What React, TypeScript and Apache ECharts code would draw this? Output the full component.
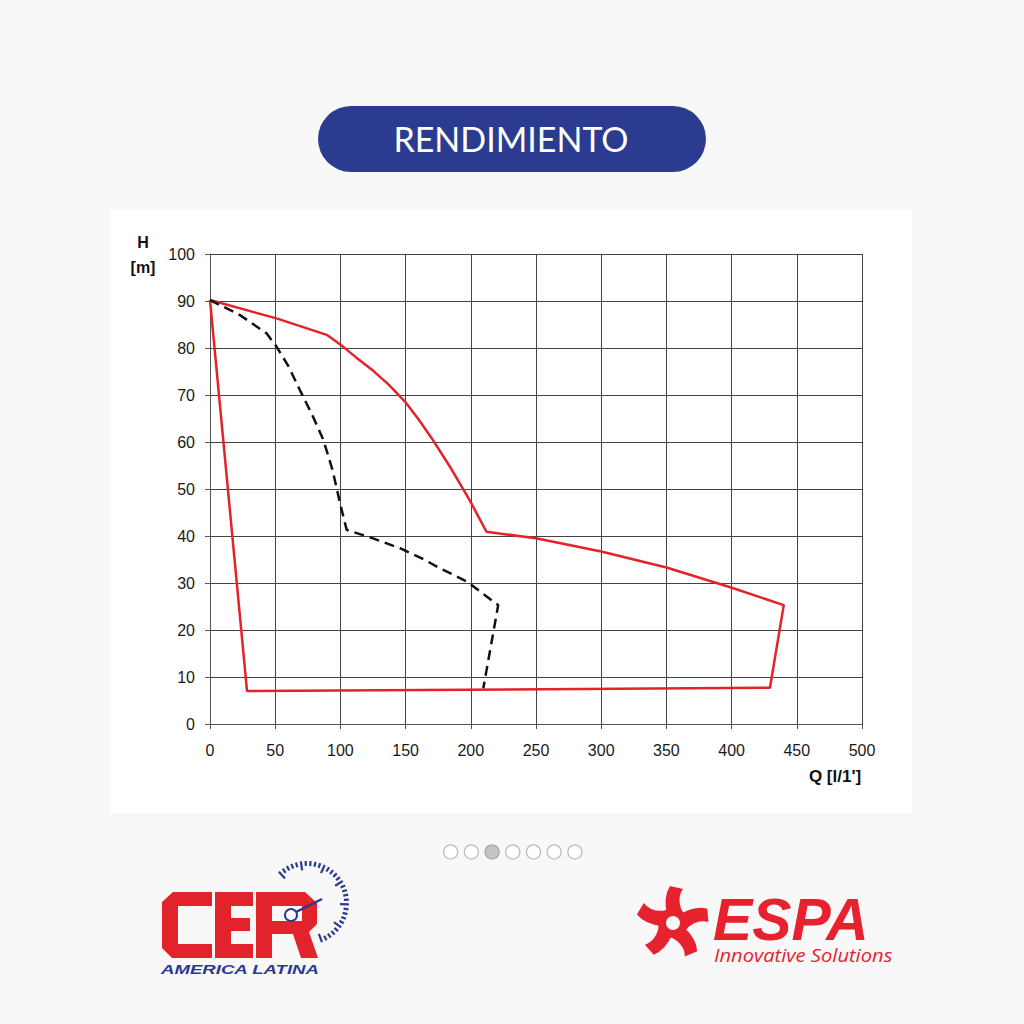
import React, { useEffect, useRef } from "react";
import * as echarts from "echarts";

// Data
const redQ = [0, 51, 89.5, 102, 112, 125, 137, 149.5, 160, 171, 185, 199, 212, 250, 300, 350, 399, 440, 429.4, 28.4, 0];
const redH = [90.2, 86.3, 82.8, 80.3, 78.0, 75.2, 72.2, 68.6, 64.8, 60.4, 54.3, 47.7, 40.9, 39.5, 36.7, 33.3, 29.1, 25.3, 7.7, 7.0, 90.2];
const blackQ = [0, 23, 43.5, 51, 60, 69, 78, 87, 94, 99.7, 104.8, 125, 145.7, 162, 176, 197, 221, 209.6];
const blackH = [90.2, 87, 83.1, 80.3, 76.2, 71, 66, 60.4, 54, 47, 41.3, 39.5, 37.4, 35.3, 33.2, 30.3, 25.3, 7.6];
const xTicks = [0, 50, 100, 150, 200, 250, 300, 350, 400, 450, 500];
const yTicks = [0, 10, 20, 30, 40, 50, 60, 70, 80, 90, 100];
const titleText = "RENDIMIENTO";
const yAxisName = ["H", "[m]"];
const xAxisName = "Q [l/1']";
const pagerDots = [0, 1, 2, 3, 4, 5, 6];
const activeDot = 2;

const BLADE = "M -6 -9 Q -10 -26 -3 -37 L 10 -34 Q 3 -24 10 -10 Z";

export default function App() {
  const ref = useRef<HTMLDivElement>(null);
  useEffect(() => {
    if (!ref.current) return;
    try {
      echarts.graphic.registerShape("espaBlade", echarts.graphic.extendPath(BLADE, {}));
    } catch (e) {}
    const chart = echarts.init(ref.current, null, { renderer: "svg", width: 1024, height: 1024 });

    const redData = redQ.map((q, i) => [q, redH[i]]);
    const blackData = blackQ.map((q, i) => [q, blackH[i]]);

    const blue = "#2b3a90";
    const red = "#e3232b";
    const bg = "#f8f8f8";

    // gauge ticks around the CER logo
    const gaugeTicks: any[] = [];
    const gcx = 307, gcy = 903, gr = 42;
    const n = 30;
    for (let i = 0; i <= n; i++) {
      const a = ((132 - (201 * i) / n) * Math.PI) / 180;
      const len = i % 5 === 0 ? 9 : 5;
      gaugeTicks.push({
        type: "line",
        shape: {
          x1: gcx + Math.cos(a) * gr,
          y1: gcy - Math.sin(a) * gr,
          x2: gcx + Math.cos(a) * (gr - len),
          y2: gcy - Math.sin(a) * (gr - len),
        },
        style: { stroke: blue, lineWidth: 2.2 },
      });
    }

    const cerLetters: any[] = [
      {
        type: "polygon",
        shape: {
          points: [[173, 892], [212, 892], [212, 906], [178, 906], [178, 944], [212, 944], [212, 958], [172, 958], [162, 948], [162, 902]],
        },
        style: { fill: red },
      },
      {
        type: "polygon",
        shape: {
          points: [[215, 892], [253, 892], [253, 906], [231, 906], [231, 918], [250, 918], [250, 931], [231, 931], [231, 944], [253, 944], [253, 958], [215, 958]],
        },
        style: { fill: red },
      },
      {
        type: "polygon",
        shape: {
          points: [[256, 892], [305, 892], [317, 903], [317, 924], [309, 932], [318, 958], [301, 958], [293, 934], [272, 934], [272, 958], [256, 958]],
        },
        style: { fill: red },
      },
      {
        type: "rect",
        shape: { x: 272, y: 906, width: 30, height: 15 },
        style: { fill: bg },
      },
    ];

    const blades: any[] = [0, 1, 2, 3, 4].map((k) => ({
      type: "espaBlade",
      x: 673,
      y: 923,
      rotation: (-k * 72 * Math.PI) / 180,
      style: { fill: "#e8212f" },
    }));

    const dots = pagerDots.map((d) => ({
      type: "circle",
      shape: { cx: 450.7 + d * 20.7, cy: 852, r: 7 },
      style: {
        fill: d === activeDot ? "#c4c4c4" : "#ffffff",
        stroke: d === activeDot ? "#a9a9a9" : "#bdbdbd",
        lineWidth: 1.3,
      },
    }));

    chart.setOption({
      animation: false,
      backgroundColor: bg,
      grid: { left: 210, top: 254, width: 652, height: 470, containLabel: false },
      xAxis: {
        type: "value",
        min: 0,
        max: 500,
        interval: 50,
        axisLine: { show: true, lineStyle: { color: "#555", width: 1 } },
        axisTick: { show: true, length: 5, lineStyle: { color: "#555" } },
        splitLine: { show: true, lineStyle: { color: "#444", width: 1 } },
        axisLabel: {
          margin: 18,
          fontSize: 16,
          color: "#1a1a1a",
          fontFamily: "Liberation Sans",
          formatter: (v: number) => (xTicks.includes(v) ? String(v) : ""),
        },
      },
      yAxis: {
        type: "value",
        min: 0,
        max: 100,
        interval: 10,
        axisLine: { show: true, lineStyle: { color: "#555", width: 1 } },
        axisTick: { show: true, length: 5, lineStyle: { color: "#555" } },
        splitLine: { show: true, lineStyle: { color: "#444", width: 1 } },
        axisLabel: {
          margin: 15,
          fontSize: 16,
          color: "#1a1a1a",
          fontFamily: "Liberation Sans",
          formatter: (v: number) => (yTicks.includes(v) ? String(v) : ""),
        },
      },
      series: [
        {
          type: "line",
          data: redData,
          symbol: "none",
          smooth: false,
          lineStyle: { color: "#e3222a", width: 2.5 },
          z: 3,
        },
        {
          type: "line",
          data: blackData,
          symbol: "none",
          smooth: false,
          lineStyle: { color: "#111", width: 2.5, type: [10, 6] },
          z: 4,
        },
      ],
      graphic: [
        {
          type: "rect",
          z: -100,
          shape: { x: 110, y: 210, width: 802, height: 603 },
          style: { fill: "#ffffff" },
        },
        {
          type: "rect",
          shape: { x: 318, y: 106, width: 388, height: 66, r: 33 },
          style: { fill: "#2a3b90" },
        },
        {
          type: "text",
          x: 511,
          y: 138,
          style: {
            text: titleText,
            fill: "#ffffff",
            font: "34px Lato",
            align: "center",
            verticalAlign: "middle",
          },
        },
        {
          type: "text",
          x: 143,
          y: 242,
          style: { text: yAxisName[0], fill: "#111", font: "bold 16px 'Liberation Sans'", align: "center", verticalAlign: "middle" },
        },
        {
          type: "text",
          x: 143,
          y: 267,
          style: { text: yAxisName[1], fill: "#111", font: "bold 16px 'Liberation Sans'", align: "center", verticalAlign: "middle" },
        },
        {
          type: "text",
          x: 835,
          y: 776,
          style: { text: xAxisName, fill: "#111", font: "bold 17px 'Liberation Sans'", align: "center", verticalAlign: "middle" },
        },
        ...dots,
        // CER logo
        ...cerLetters,
        ...gaugeTicks,
        {
          type: "line",
          shape: { x1: 296, y1: 912, x2: 322, y2: 899 },
          style: { stroke: blue, lineWidth: 2.5 },
        },
        {
          type: "circle",
          shape: { cx: 291, cy: 915, r: 6 },
          style: { fill: "#ffffff", stroke: blue, lineWidth: 2 },
        },
        {
          type: "text",
          x: 161,
          y: 970,
          scaleX: 1.55,
          style: { text: "AMERICA LATINA", fill: blue, font: "italic bold 12px 'Liberation Sans'", align: "left", verticalAlign: "middle" },
        },
        // ESPA logo
        ...blades,
        {
          type: "ring",
          shape: { cx: 673, cy: 923, r: 15, r0: 7 },
          style: { fill: "#e8212f" },
        },
        {
          type: "text",
          x: 713,
          y: 919,
          scaleX: 0.98,
          style: { text: "ESPA", fill: "#e8212f", font: "italic bold 60px 'Liberation Sans'", align: "left", verticalAlign: "middle" },
        },
        {
          type: "text",
          x: 714,
          y: 955,
          scaleX: 1.06,
          style: { text: "Innovative Solutions", fill: "#e8212f", font: "italic 19px 'Open Sans'", align: "left", verticalAlign: "middle" },
        },
      ],
    });
    return () => chart.dispose();
  }, []);
  return (
    <div
      ref={ref}
      style={{ position: "absolute", left: 0, top: 0, width: 1024, height: 1024 }}
    />
  );
}
